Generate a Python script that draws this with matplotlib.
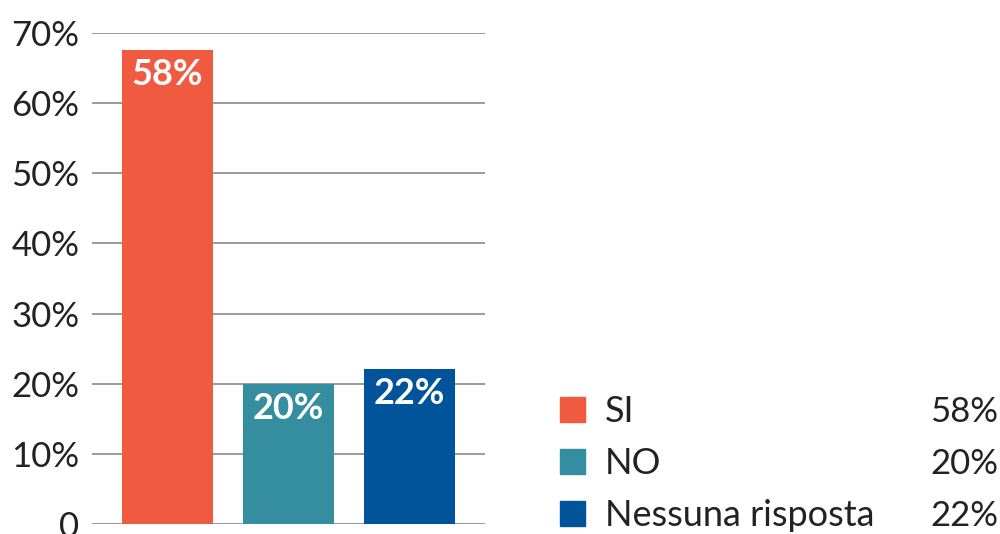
import matplotlib
matplotlib.use("Agg")
import matplotlib.pyplot as plt
from matplotlib.patches import Rectangle

# data
categories = ["SI", "NO", "Nessuna risposta"]
heights = [67.6, 20.0, 22.1]       # drawn bar heights (%)
labels = ["58%", "20%", "22%"]     # printed values
colors = ["#F05A40", "#348EA0", "#01549A"]
yticks = [0, 10, 20, 30, 40, 50, 60, 70]
ytick_labels = ["0", "10%", "20%", "30%", "40%", "50%", "60%", "70%"]

plt.rcParams["font.family"] = ["Lato", "DejaVu Sans"]

fig = plt.figure(figsize=(10, 5.34), dpi=100)
ax = fig.add_axes([0.092, 10 / 534, 0.393, 491 / 534])

x = list(range(len(categories)))
ax.bar(x, heights, width=0.75, color=colors, zorder=3)

#value labels inside the bars
for xi, h, lab in zip(x, heights, labels):
  ax.text(xi, h - 1.2, lab, ha="center", va="top", color="white",
          fontsize=26, fontweight="bold", zorder=4)

ax.set_xlim(-0.624, 2.624)
ax.set_ylim(0, 70)
ax.set_yticks(yticks)
ax.set_yticklabels(ytick_labels, fontsize=25, color="#222222")
ax.set_xticks([])
ax.tick_params(axis="y", length=0, pad=9)
ax.yaxis.grid(True, color="#9a9a9a", linewidth=1.4, zorder=0)
for s in ax.spines.values():
  s.set_visible(False)

#legend on the right
row_y = [409, 461, 513]
for cat, lab, col, yy in zip(categories, labels, colors, row_y):
  fy = 1 - yy / 534
  fig.add_artist(Rectangle((560 / 1000, fy - 12.5 / 534), 25 / 1000, 25 / 534,
                           transform=fig.transFigure, color=col))
  fig.text(605 / 1000, fy, cat, ha="left", va="center_baseline",
           fontsize=26, color="#222222")
  fig.text(998 / 1000, fy, lab, ha="right", va="center_baseline",
           fontsize=25, color="#222222")

fig.savefig("out.png", dpi=100)
